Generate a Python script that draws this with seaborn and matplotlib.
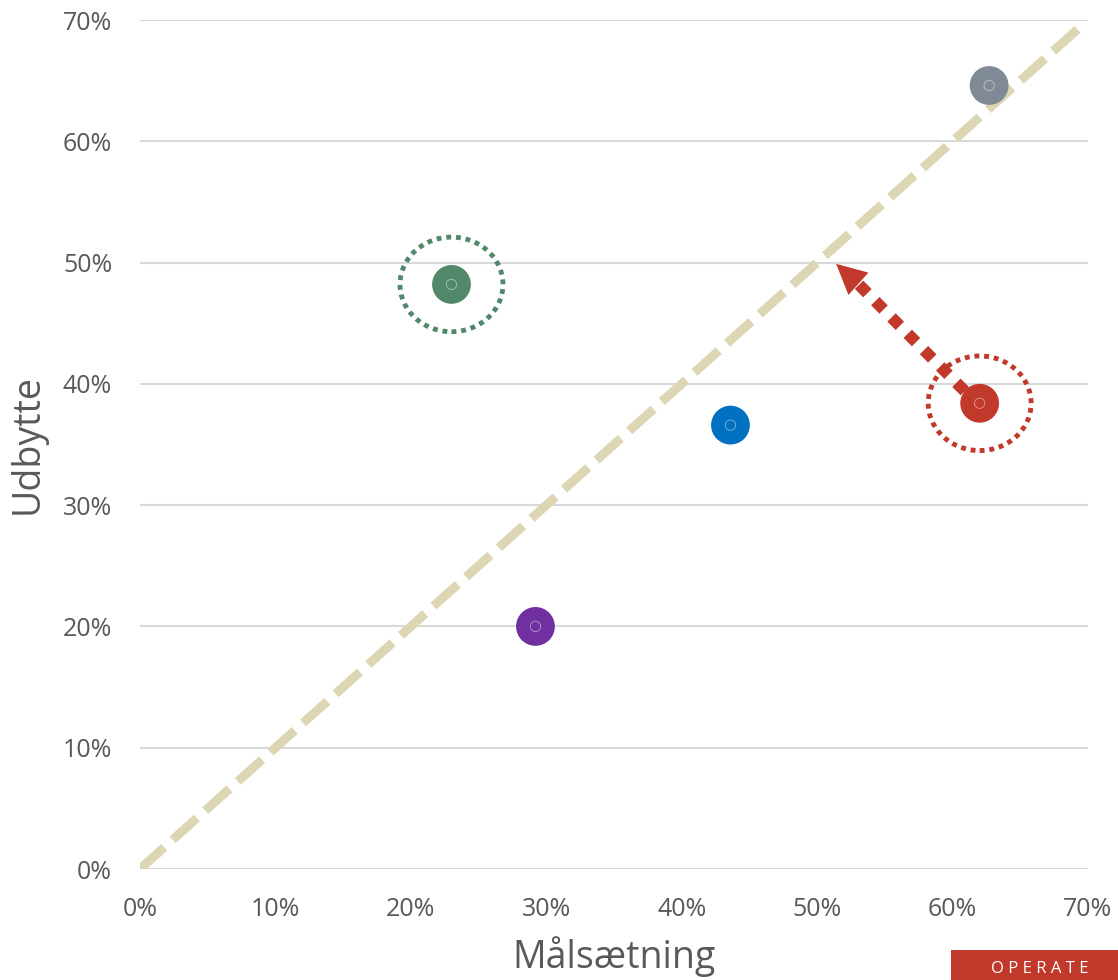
import numpy as np
import pandas as pd
import matplotlib
matplotlib.use("Agg")
import matplotlib.pyplot as plt
import seaborn as sns
from matplotlib.patches import Ellipse, Rectangle

# Data (percent)
names = ["A", "B", "C", "D", "E"]
maalsaetning = [23.0, 29.2, 43.6, 62.0, 62.7]
udbytte = [48.2, 20.0, 36.6, 38.4, 64.6]
colors = ["#52886A", "#7030A0", "#0070C0", "#C0392B", "#7F8A96"]
highlighted = ["A", "D"]
diag_x = [0, 69.3]
diag_y = [0, 69.3]
arrow_from = (60.9, 39.4)
arrow_to = (51.4, 49.9)
ticks = [0, 10, 20, 30, 40, 50, 60, 70]

df = pd.DataFrame({"name": names, "x": maalsaetning, "y": udbytte})

sns.set_theme(style="white")
plt.rcParams["font.family"] = ["Open Sans", "DejaVu Sans"]

fig = plt.figure(figsize=(11.18, 9.8), dpi=100)
ax = fig.add_axes([140 / 1118, 111 / 980, 948 / 1118, 849 / 980])

# gridlines
for t in ticks:
    ax.axhline(t, color="#D9D9D9", lw=1.5, zorder=0)

# diagonal reference line
ax.plot(diag_x, diag_y, color="#DDD6B4", lw=6.5, dashes=(3.6, 1.25), zorder=1,
        solid_capstyle="butt", dash_capstyle="butt")

# arrow (dotted line + head)
ax.plot([arrow_from[0], arrow_to[0] + 1.4], [arrow_from[1], arrow_to[1] - 1.4],
        color="#C0392B", lw=8.5, ls=(0, (1, 0.95)), zorder=2,
        dash_capstyle="butt")
ax.annotate("", xy=arrow_to, xytext=(arrow_to[0] + 1.6, arrow_to[1] - 1.6),
            arrowprops=dict(arrowstyle="-|>", color="#C0392B", lw=0,
                            mutation_scale=54, shrinkA=0, shrinkB=0), zorder=3)

# points
sns.scatterplot(data=df, x="x", y="y", hue="name", palette=colors, s=780,
                linewidth=0, legend=False, ax=ax, zorder=4)
ax.scatter(df["x"], df["y"], s=55, facecolors="none", edgecolors="white",
           linewidths=0.6, alpha=0.5, zorder=5)

# dotted highlight circles
for n in highlighted:
    i = names.index(n)
    e = Ellipse((maalsaetning[i], udbytte[i]), width=7.6, height=7.8,
                fill=False, edgecolor=colors[i], lw=3.5, ls=(0, (1, 1)), zorder=3)
    ax.add_patch(e)

ax.set_xlim(0, 70)
ax.set_ylim(0, 70)
ax.set_xticks(ticks)
ax.set_yticks(ticks)
ax.set_xticklabels([f"{t}%" for t in ticks])
ax.set_yticklabels([f"{t}%" for t in ticks])
ax.tick_params(axis="both", labelsize=18, labelcolor="#595959", length=0, pad=20)
for s in ax.spines.values():
    s.set_visible(False)
ax.set_xlabel("Målsætning", fontsize=27, color="#595959", labelpad=10)
ax.set_ylabel("Udbytte", fontsize=27, color="#595959", labelpad=12)

# logo
fig.patches.append(Rectangle((951 / 1118, 0), 167 / 1118, 30 / 980,
                             transform=fig.transFigure, fc="#C0392B", ec="none"))
fig.text(1040 / 1118, 3 / 980, "O P E R A T E", fontsize=12, color="white",
         ha="center", va="bottom")

fig.savefig("out.png", dpi=100)
